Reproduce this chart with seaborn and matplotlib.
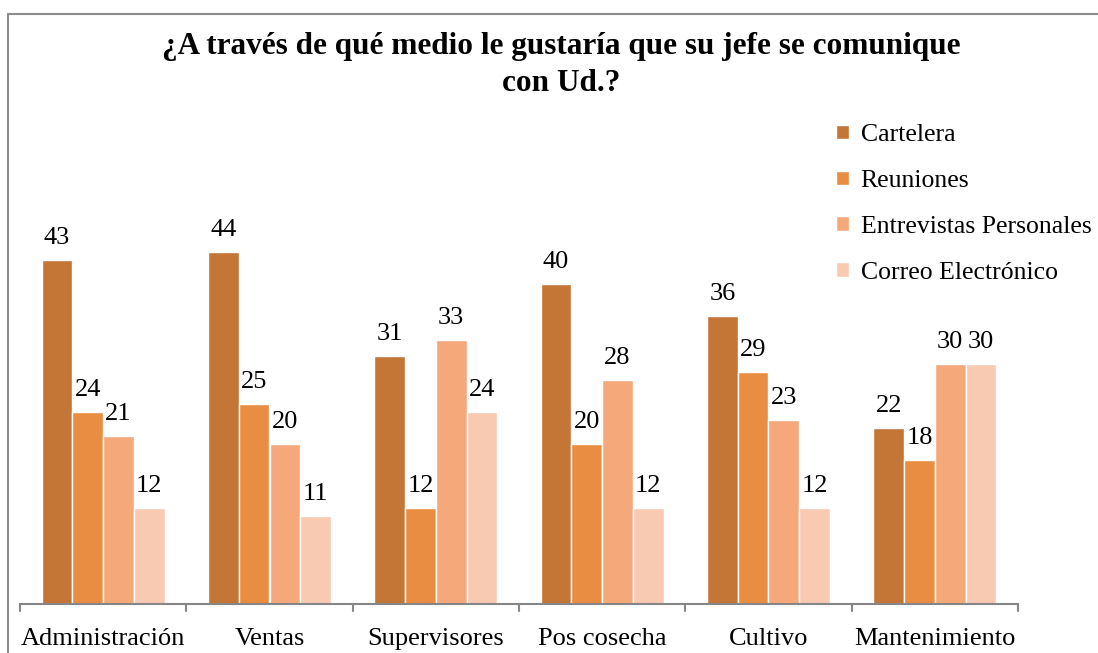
import matplotlib
matplotlib.use("Agg")
import matplotlib.pyplot as plt
from matplotlib.lines import Line2D
import seaborn as sns
import pandas as pd

categories = ["Administración", "Ventas", "Supervisores", "Pos cosecha", "Cultivo", "Mantenimiento"]
series = ["Cartelera", "Reuniones", "Entrevistas Personales", "Correo Electrónico"]
cartelera = [43, 44, 31, 40, 36, 22]
reuniones = [24, 25, 12, 20, 29, 18]
entrevistas = [21, 20, 33, 28, 23, 30]
correo = [12, 11, 24, 12, 12, 30]
colors = ["#C47636", "#E88D42", "#F5A97A", "#F8CAB1"]

rows = []
for name, vals in zip(series, [cartelera, reuniones, entrevistas, correo]):
    for cat, v in zip(categories, vals):
        rows.append({"Area": cat, "Medio": name, "Valor": v})
df = pd.DataFrame(rows)

sns.set_style("white")
plt.rcParams["font.family"] = ["Liberation Serif", "DejaVu Serif"]
plt.rcParams["text.color"] = "black"

fig = plt.figure(figsize=(10.98, 6.53), dpi=100)
ax = fig.add_axes([20 / 1098, 49 / 653, 998 / 1098, 400 / 653])

sns.barplot(data=df, x="Area", y="Valor", hue="Medio", order=categories,
            hue_order=series, palette=colors, saturation=1, width=0.74, gap=0,
            edgecolor="white", linewidth=1, ax=ax)

for cont in ax.containers:
    ax.bar_label(cont, padding=8, fontsize=19, color="black")

ax.set_xlim(-0.5, len(categories) - 0.5)
ax.set_ylim(0, 50)
ax.set_xlabel("")
ax.set_ylabel("")
ax.set_yticks([])
for s in ["top", "right", "left"]:
    ax.spines[s].set_visible(False)
ax.spines["bottom"].set_color("#868686")
ax.spines["bottom"].set_linewidth(1.5)
ax.tick_params(axis="x", length=0, labelsize=19, pad=17, colors="black")

# tick marks between groups
for i in range(len(categories) + 1):
    ax.plot([i - 0.5, i - 0.5], [0, -0.9], color="#868686", lw=1.5, clip_on=False)

handles, labels = ax.get_legend_handles_labels()
ax.legend(handles, labels, loc="upper left", bbox_to_anchor=(813 / 1098, 1 - 101 / 653),
          bbox_transform=fig.transFigure, frameon=False, fontsize=18.5,
          handlelength=0.5, handleheight=0.5, handletextpad=0.45, labelspacing=0.93)

fig.text(561 / 1098, 1 - 65 / 653, "¿A través de qué medio le gustaría que su jefe se comunique\ncon Ud.?",
         ha="center", va="center", fontsize=22.5, fontweight="bold", linespacing=1.4,
         color="black")

# frame lines of the chart area
fig.add_artist(Line2D([8 / 1098, 1], [1 - 14 / 653, 1 - 14 / 653], transform=fig.transFigure,
                      color="#8c8c8c", lw=1.5))
fig.add_artist(Line2D([8 / 1098, 8 / 1098], [0, 1 - 14 / 653], transform=fig.transFigure,
                      color="#8c8c8c", lw=1.5))

fig.savefig("out.png", dpi=100)
